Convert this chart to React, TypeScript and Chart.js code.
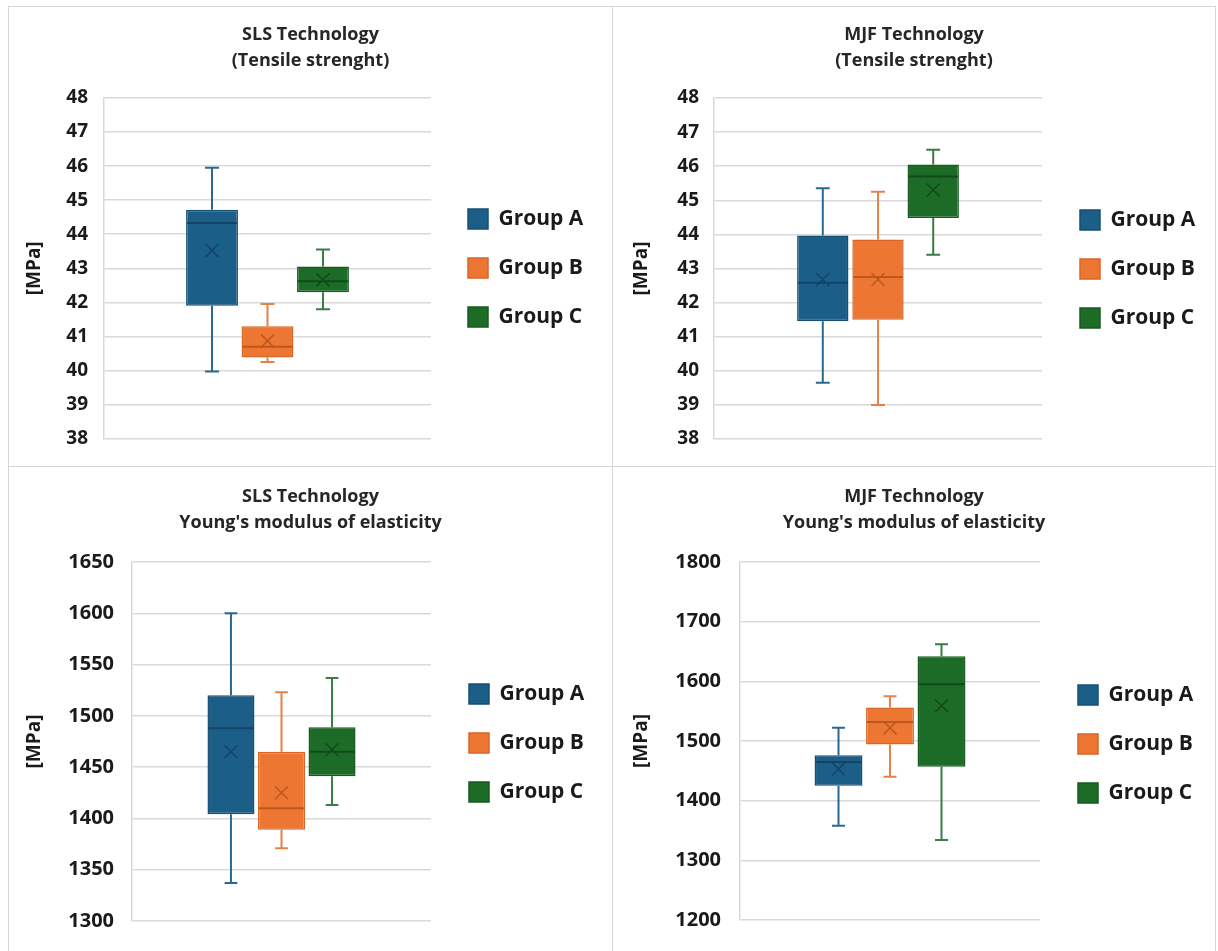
import React, { useEffect, useRef } from 'react';
import { Chart, registerables } from 'chart.js';

Chart.register(...registerables);

// ---------- data ----------
const groups = ['Group A', 'Group B', 'Group C'];

// SLS – tensile strength [MPa]
const slsTensileMin = [39.97, 40.25, 41.8];
const slsTensileQ1 = [41.9, 40.38, 42.3];
const slsTensileMedian = [44.33, 40.7, 42.62];
const slsTensileQ3 = [44.72, 41.3, 43.05];
const slsTensileMax = [45.95, 41.95, 43.55];
const slsTensileMean = [43.52, 40.87, 42.66];

// MJF – tensile strength [MPa]
const mjfTensileMin = [39.65, 39.0, 43.4];
const mjfTensileQ1 = [41.45, 41.5, 44.48];
const mjfTensileMedian = [42.58, 42.75, 45.7];
const mjfTensileQ3 = [43.97, 43.85, 46.05];
const mjfTensileMax = [45.35, 45.25, 46.48];
const mjfTensileMean = [42.68, 42.68, 45.3];

// SLS – Young's modulus [MPa]
const slsYoungMin = [1337, 1371, 1413];
const slsYoungQ1 = [1404, 1389, 1441];
const slsYoungMedian = [1488, 1410, 1465];
const slsYoungQ3 = [1520, 1465, 1489];
const slsYoungMax = [1600, 1523, 1537];
const slsYoungMean = [1465, 1425, 1467];

// MJF – Young's modulus [MPa]
const mjfYoungMin = [1358, 1440, 1334];
const mjfYoungQ1 = [1425, 1494, 1457];
const mjfYoungMedian = [1465, 1532, 1595];
const mjfYoungQ3 = [1476, 1556, 1642];
const mjfYoungMax = [1522, 1575, 1662];
const mjfYoungMean = [1453, 1522, 1559];

// axis ranges
const tensileAxis = { min: 38, max: 48, step: 1 };
const slsYoungAxis = { min: 1300, max: 1650, step: 50 };
const mjfYoungAxis = { min: 1200, max: 1800, step: 100 };

const yAxisLabel = '[MPa]';

// ---------- styles ----------
const FONT = '"Open Sans", "DejaVu Sans", sans-serif';
const fillColors = ['#1B5E87', '#ED7732', '#1C6C28'];
const borderColors = ['#174F72', '#D7662A', '#165A20'];
const whiskerColors = ['#2B6890', '#E88049', '#3A7C44'];
const markColors = ['#134465', '#BE571E', '#114A19'];
const GRID = '#d9d9d9';
const TEXT = '#1a1a1a';

type Stats = {
  min: number[]; q1: number[]; median: number[]; q3: number[]; max: number[]; mean: number[];
};

type PanelCfg = {
  key: string;
  title: string[];
  stats: Stats;
  axis: { min: number; max: number; step: number };
  left: number; top: number; width: number; height: number; // panel div rect
  chartL: number; chartR: number; chartT: number; chartB: number; // canvas coords
  titlePadTop: number;
  yTitleCenter: number;
  tickPad: number;
  tickSize: number;
  legendX: number; legendMidY: number;
  catPct: number; barPct: number;
};

const panels: PanelCfg[] = [
  {
    key: 'p1', title: ['SLS Technology', '(Tensile strenght)'],
    stats: { min: slsTensileMin, q1: slsTensileQ1, median: slsTensileMedian, q3: slsTensileQ3, max: slsTensileMax, mean: slsTensileMean },
    axis: tensileAxis,
    left: 8, top: 6, width: 605, height: 461,
    chartL: 95, chartR: 422, chartT: 91, chartB: 432,
    titlePadTop: 15, yTitleCenter: 26, tickPad: 16, tickSize: 19,
    legendX: 459, legendMidY: 261, catPct: 0.509, barPct: 0.935,
  },
  {
    key: 'p2', title: ['MJF Technology', '(Tensile strenght)'],
    stats: { min: mjfTensileMin, q1: mjfTensileQ1, median: mjfTensileMedian, q3: mjfTensileQ3, max: mjfTensileMax, mean: mjfTensileMean },
    axis: tensileAxis,
    left: 612, top: 6, width: 604, height: 461,
    chartL: 101, chartR: 429, chartT: 91, chartB: 432,
    titlePadTop: 15, yTitleCenter: 29, tickPad: 15, tickSize: 19,
    legendX: 467, legendMidY: 262, catPct: 0.505, barPct: 0.93,
  },
  {
    key: 'p3', title: ['SLS Technology', "Young's modulus of elasticity"],
    stats: { min: slsYoungMin, q1: slsYoungQ1, median: slsYoungMedian, q3: slsYoungQ3, max: slsYoungMax, mean: slsYoungMean },
    axis: slsYoungAxis,
    left: 8, top: 466, width: 605, height: 486,
    chartL: 123, chartR: 422, chartT: 95, chartB: 461,
    titlePadTop: 16.5, yTitleCenter: 26, tickPad: 18, tickSize: 20,
    legendX: 460, legendMidY: 276, catPct: 0.507, barPct: 0.93,
  },
  {
    key: 'p4', title: ['MJF Technology', "Young's modulus of elasticity"],
    stats: { min: mjfYoungMin, q1: mjfYoungQ1, median: mjfYoungMedian, q3: mjfYoungQ3, max: mjfYoungMax, mean: mjfYoungMean },
    axis: mjfYoungAxis,
    left: 612, top: 466, width: 604, height: 486,
    chartL: 127, chartR: 427, chartT: 95, chartB: 461,
    titlePadTop: 16.5, yTitleCenter: 29, tickPad: 19, tickSize: 20,
    legendX: 465, legendMidY: 277, catPct: 0.515, barPct: 0.93,
  },
];

function makeBoxPlugin(stats: Stats, legendX: number, legendMidY: number) {
  return {
    id: 'boxplotExtras',
    afterUpdate(chart: any) {
      const lg = chart.legend;
      if (!lg || !lg.columnSizes || !lg.columnSizes.length) return;
      const pad = lg.options.labels.padding;
      const w = lg.width;
      const h = lg.height;
      const colH = lg.columnSizes[0].height;
      lg.left = legendX - pad;
      lg.right = lg.left + w;
      const firstTop = legendMidY - (colH - pad) / 2;
      const T = firstTop - (h + pad - colH) / 2;
      lg.top = T;
      lg.bottom = T + h;
    },
    beforeDatasetsDraw(chart: any) {
      const ctx = chart.ctx;
      const y = chart.scales.y;
      ctx.save();
      chart.data.datasets.forEach((_: any, i: number) => {
        const el = chart.getDatasetMeta(i).data[0];
        if (!el) return;
        const x = el.x;
        const cap = el.width * 0.27;
        const yMin = y.getPixelForValue(stats.min[i]);
        const yMax = y.getPixelForValue(stats.max[i]);
        const yQ1 = y.getPixelForValue(stats.q1[i]);
        const yQ3 = y.getPixelForValue(stats.q3[i]);
        ctx.strokeStyle = whiskerColors[i];
        ctx.lineWidth = 2;
        ctx.beginPath();
        ctx.moveTo(x, yQ3); ctx.lineTo(x, yMax);
        ctx.moveTo(x, yQ1); ctx.lineTo(x, yMin);
        ctx.moveTo(x - cap / 2, yMax); ctx.lineTo(x + cap / 2, yMax);
        ctx.moveTo(x - cap / 2, yMin); ctx.lineTo(x + cap / 2, yMin);
        ctx.stroke();
      });
      ctx.restore();
    },
    afterDatasetsDraw(chart: any) {
      const ctx = chart.ctx;
      const y = chart.scales.y;
      ctx.save();
      chart.data.datasets.forEach((_: any, i: number) => {
        const el = chart.getDatasetMeta(i).data[0];
        if (!el) return;
        const x = el.x;
        const half = el.width / 2 - 1;
        const yMed = y.getPixelForValue(stats.median[i]);
        const yMean = y.getPixelForValue(stats.mean[i]);
        ctx.strokeStyle = markColors[i];
        ctx.lineWidth = 2;
        ctx.beginPath();
        ctx.moveTo(x - half, yMed); ctx.lineTo(x + half, yMed);
        ctx.stroke();
        const s = 6.5;
        ctx.lineWidth = 1.5;
        ctx.beginPath();
        ctx.moveTo(x - s, yMean - s); ctx.lineTo(x + s, yMean + s);
        ctx.moveTo(x + s, yMean - s); ctx.lineTo(x - s, yMean + s);
        ctx.stroke();
      });
      ctx.restore();
    },
  };
}

function PanelChart({ cfg }: { cfg: PanelCfg }) {
  const ref = useRef<HTMLCanvasElement | null>(null);
  const W = cfg.width - 2;
  const H = cfg.height - 2;

  useEffect(() => {
    if (!ref.current) return;
    const lineH = 26;
    const titlePadBottom = cfg.chartT - cfg.titlePadTop - 2 * lineH;
    const yTitleLH = 19 * 1.2;
    const chart = new Chart(ref.current, {
      type: 'bar',
      data: {
        labels: [''],
        datasets: groups.map((g, i) => ({
          label: g,
          data: [[cfg.stats.q1[i], cfg.stats.q3[i]]] as any,
          backgroundColor: fillColors[i],
          borderColor: borderColors[i],
          borderWidth: 1.5,
          borderSkipped: false,
          yAxisID: 'y',
        })),
      },
      options: {
        responsive: false,
        maintainAspectRatio: false,
        animation: false,
        devicePixelRatio: 1,
        events: [],
        layout: { padding: { left: 0, right: 0, top: 0, bottom: H - cfg.chartB } },
        datasets: { bar: { categoryPercentage: cfg.catPct, barPercentage: cfg.barPct } },
        scales: {
          x: { display: false },
          y: {
            type: 'linear',
            position: 'left',
            min: cfg.axis.min,
            max: cfg.axis.max,
            ticks: {
              stepSize: cfg.axis.step,
              padding: cfg.tickPad,
              color: TEXT,
              font: { family: FONT, size: cfg.tickSize, weight: 'bold' },
              autoSkip: false,
              callback: (v: any) => String(v),
            },
            grid: { color: GRID, lineWidth: 1.5, drawTicks: false },
            border: { display: true, color: GRID, width: 1.5 },
            title: {
              display: true,
              text: yAxisLabel,
              color: TEXT,
              font: { family: FONT, size: 19, weight: 'bold' },
              padding: { top: cfg.yTitleCenter - yTitleLH / 2, bottom: 0 },
            },
            afterFit: (s: any) => { s.width = cfg.chartL; },
          },
          y2: {
            type: 'linear',
            position: 'right',
            display: true,
            grid: { display: false },
            ticks: { display: false },
            border: { display: false },
            afterFit: (s: any) => { s.width = W - cfg.chartR; },
          },
        } as any,
        plugins: {
          title: {
            display: true,
            text: cfg.title,
            color: '#262626',
            font: { family: FONT, size: 18, weight: 'bold', lineHeight: '26px' } as any,
            padding: { top: cfg.titlePadTop, bottom: titlePadBottom },
          },
          legend: {
            display: true,
            position: 'chartArea',
            labels: {
              boxWidth: 20,
              boxHeight: 20,
              padding: 28,
              color: TEXT,
              font: { family: FONT, size: 21, weight: 'bold' },
            },
          },
          tooltip: { enabled: false },
        },
      } as any,
      plugins: [makeBoxPlugin(cfg.stats, cfg.legendX, cfg.legendMidY) as any],
    });
    return () => chart.destroy();
  }, [cfg]);

  return (
    <div
      style={{
        position: 'absolute',
        left: cfg.left,
        top: cfg.top,
        width: cfg.width,
        height: cfg.height,
        boxSizing: 'border-box',
        border: '1px solid #d6d6d6',
        background: '#fff',
      }}
    >
      <canvas ref={ref} width={W} height={H} style={{ display: 'block', width: W, height: H }} />
    </div>
  );
}

export default function App() {
  return (
    <div
      style={{
        position: 'fixed',
        left: 0,
        top: 0,
        width: 1218,
        height: 951,
        background: '#ffffff',
        overflow: 'hidden',
      }}
    >
      {panels.map((p) => (
        <PanelChart key={p.key} cfg={p} />
      ))}
    </div>
  );
}
